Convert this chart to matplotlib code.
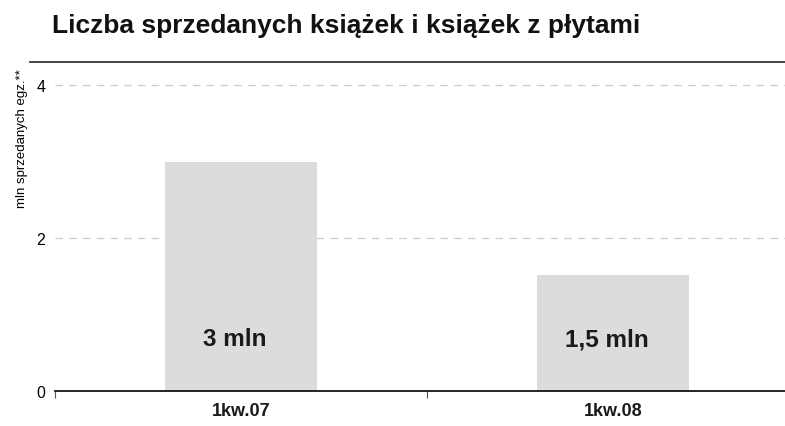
import matplotlib.pyplot as plt
from matplotlib.lines import Line2D

plt.rcParams['font.family'] = ['Liberation Sans', 'DejaVu Sans']

# data
categories = ["1kw.07", "1kw.08"]
values = [3.0, 1.52]
bar_labels = ["3 mln", "1,5 mln"]
yticks = [0, 2, 4]

fig = plt.figure(figsize=(7.85, 4.27), dpi=100)
# axes runs a little past the right edge of the figure, as in the source
ax = fig.add_axes([0.070, 0.082, 0.948, 0.77])

x = list(range(len(categories)))
ax.bar(x, values, width=0.41, color="#dcdcdc", zorder=2)

for xi, lab in zip(x, bar_labels):
    ax.text(xi - 0.016, 0.68, lab, ha="center", va="center", fontsize=17.5,
            fontweight="bold", color="#1a1a1a", zorder=3)

ax.set_xlim(-0.5, 1.5)
ax.set_ylim(0, 4.3)

ax.set_yticks(yticks)
ax.set_yticklabels([str(t) for t in yticks], fontsize=11.5)
ax.tick_params(axis="y", length=0, pad=7)
for t in yticks[1:]:
    ax.axhline(t, color="#cccccc", lw=0.9, ls=(0, (6, 5)), zorder=1)

# boundary ticks only, category names as text
ax.set_xticks([-0.5, 0.5])
ax.set_xticklabels([])
ax.tick_params(axis="x", length=5, width=0.8, color="#555555")
for xi, c in zip(x, categories):
    ax.text(xi, -0.035, c, ha="center", va="top", fontsize=13,
            fontweight="bold", transform=ax.get_xaxis_transform(), color="#1a1a1a")

for s in ["top", "right", "left"]:
    ax.spines[s].set_visible(False)
ax.spines["bottom"].set_linewidth(1.2)

fig.text(22 / 785, 1 - 69 / 427, "mln sprzedanych egz.**", rotation=90, ha="center",
         va="top", fontsize=9.5)

fig.add_artist(Line2D([30 / 785, 1.0], [1 - 63 / 427, 1 - 63 / 427],
                      color="#222222", lw=1.2, transform=fig.transFigure))
fig.text(52 / 785, 1 - 33 / 427, "Liczba sprzedanych książek i książek z płytami",
         fontsize=19, fontweight="bold", va="baseline", ha="left", color="#111111")

fig.savefig("out.png", dpi=100)
